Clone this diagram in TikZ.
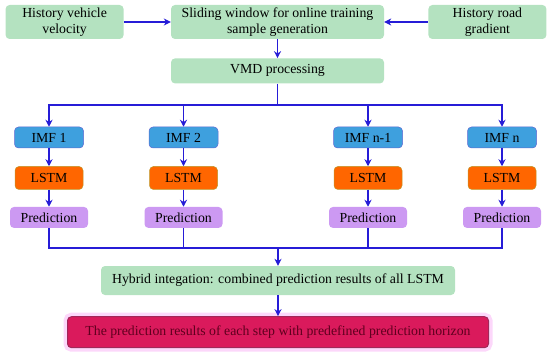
\documentclass[tikz,border=0pt]{standalone}
\usepackage{fontspec}
\setmainfont{Liberation Serif}
\usepackage{xcolor}
\usepackage{tikz}
\usetikzlibrary{arrows.meta,positioning,calc}
\definecolor{boxgreen}{RGB}{180,226,192}
\definecolor{imfblue}{RGB}{62,160,222}
\definecolor{imfedge}{RGB}{95,105,210}
\definecolor{lstmorange}{RGB}{255,102,0}
\definecolor{lstmedge}{RGB}{190,150,40}
\definecolor{predpurple}{RGB}{204,153,242}
\definecolor{finalred}{RGB}{218,26,92}
\definecolor{finaledge}{RGB}{160,40,90}
\definecolor{finaltext}{RGB}{95,0,30}
\definecolor{glowpink}{RGB}{252,215,250}
\definecolor{linkblue}{RGB}{38,28,215}
\tikzset{
  flowbox/.style  = {rectangle, draw=none, rounded corners=4pt,
                     fill=#1, inner sep=1pt, align=center,
                     font=\rmfamily\fontsize{13.8}{16.5}\selectfont,
                     text=black},
  flowbox/.default= boxgreen,
  imfbox/.style   = {flowbox=imfblue, draw=imfedge, line width=0.5pt,
                     minimum width=69pt, minimum height=21pt},
  lstmbox/.style  = {flowbox=lstmorange, draw=lstmedge, line width=0.5pt,
                     minimum width=68pt, minimum height=23pt},
  predbox/.style  = {flowbox=predpurple,
                     minimum width=78pt, minimum height=21pt},
  finalbox/.style = {flowbox=finalred, draw=finaledge, line width=1pt,
                     text=finaltext, minimum width=421pt,
                     minimum height=31pt,
                     preaction={draw=glowpink, line width=8pt,
                                sharp corners}},
  myarrow/.style  = {-{Stealth[length=7pt,width=7pt]}, line width=1.3pt,
                     linkblue},
  myline/.style   = {line width=1.3pt, linkblue},
}
\begin{document}
\begin{tikzpicture}[x=1pt, y=1pt]
  \useasboundingbox (0,0) rectangle (550,-353);

  %% ---- Input row ----
  \node[flowbox, minimum width=213pt, minimum height=34pt]
        (slide) at (277.5,-22) {Sliding window for online training\\sample generation};
  \node[flowbox, minimum width=118pt, minimum height=34pt,
        left=47pt of slide]  (vel)  {History vehicle\\velocity};
  \node[flowbox, minimum width=118pt, minimum height=34pt,
        right=44pt of slide] (grad) {History road\\gradient};
  \node[flowbox, minimum width=213pt, minimum height=25pt,
        below=19pt of slide] (vmd)  {VMD processing};

  %% ---- IMF columns ----
  \node[imfbox]  (imf1)  at (49,-137.5)  {IMF 1};
  \node[imfbox]  (imf2)  at (183.5,-137.5) {IMF 2};
  \node[imfbox]  (imfm)  at (368,-137.5) {IMF n-1};
  \node[imfbox]  (imfn)  at (502,-137.5) {IMF n};

  \node[lstmbox, below=18pt of imf1] (lstm1) {LSTM};
  \node[lstmbox, below=18pt of imf2] (lstm2) {LSTM};
  \node[lstmbox, below=18pt of imfm] (lstmm) {LSTM};
  \node[lstmbox, below=18pt of imfn] (lstmn) {LSTM};

  \node[predbox, below=17pt of lstm1] (pred1) {Prediction};
  \node[predbox, below=17pt of lstm2] (pred2) {Prediction};
  \node[predbox, below=17pt of lstmm] (predm) {Prediction};
  \node[predbox, below=17pt of lstmn] (predn) {Prediction};

  %% ---- Output row ----
  \node[flowbox, minimum width=354pt, minimum height=29pt]
        (hybrid) at (278,-280.5)
        {Hybrid integation: combined prediction results of all LSTM};
  \node[finalbox, below=21pt of hybrid] (final)
        {The prediction results of each step with predefined prediction horizon};

  \coordinate (split) at (vmd.south |- 0,-105);
  \coordinate (merge) at (hybrid.north |- 0,-248);

  %% ---- Arrows: inputs ----
  \draw[myarrow] (vel.east)  -- (slide.west);
  \draw[myarrow] (grad.west) -- (slide.east);
  \draw[myarrow] (slide.south) -- (vmd.north);

  %% ---- Arrows: decomposition ----
  \draw[myline]  (vmd.south) -- (split);
  \draw[myarrow] (split) -| (imf1.north);
  \draw[myarrow] (split) -| (imf2.north);
  \draw[myarrow] (split) -| (imfm.north);
  \draw[myarrow] (split) -| (imfn.north);

  \draw[myarrow] (imf1.south) -- (lstm1.north);
  \draw[myarrow] (imf2.south) -- (lstm2.north);
  \draw[myarrow] (imfm.south) -- (lstmm.north);
  \draw[myarrow] (imfn.south) -- (lstmn.north);

  \draw[myarrow] (lstm1.south) -- (pred1.north);
  \draw[myarrow] (lstm2.south) -- (pred2.north);
  \draw[myarrow] (lstmm.south) -- (predm.north);
  \draw[myarrow] (lstmn.south) -- (predn.north);

  %% ---- Arrows: integration ----
  \draw[myline] (pred1.south) |- (merge);
  \draw[myline] (pred2.south) |- (merge);
  \draw[myline] (predm.south) |- (merge);
  \draw[myline] (predn.south) |- (merge);
  \draw[myarrow] (merge) -- (hybrid.north);
  \draw[myarrow] (hybrid.south) -- (final.north);

\end{tikzpicture}
\end{document}
